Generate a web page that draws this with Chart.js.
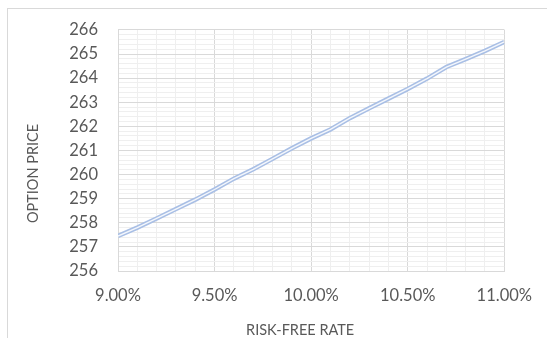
<!DOCTYPE html>
<html>
<head>
<meta charset="utf-8">
<script src="https://cdn.jsdelivr.net/npm/chart.js@4"></script>
<style>
  html, body { margin: 0; padding: 0; background: #ffffff; overflow: hidden; }
  #wrap { position: relative; width: 547px; height: 338px; }
  #frame { position: absolute; left: 7px; top: 8px; width: 600px; height: 400px; border: 1px solid #d9d9d9; box-sizing: border-box; }
  canvas { position: absolute; left: 0; top: 0; }
</style>
</head>
<body>
<div id="wrap">
  <div id="frame"></div>
  <canvas id="c" width="547" height="338"></canvas>
</div>
<script>
// Risk-free rate (%) and resulting option price
const rates = [9.0, 9.1, 9.2, 9.3, 9.4, 9.5, 9.6, 9.7, 9.8, 9.9, 10.0,
               10.1, 10.2, 10.3, 10.4, 10.5, 10.6, 10.7, 10.8, 10.9, 11.0];
const prices = [257.45, 257.80, 258.18, 258.57, 258.96, 259.38, 259.83, 260.22, 260.65, 261.09, 261.50,
                261.87, 262.34, 262.75, 263.15, 263.55, 263.98, 264.46, 264.79, 265.13, 265.50];
const xTickValues = [9.0, 9.5, 10.0, 10.5, 11.0];
const yTickValues = [256, 257, 258, 259, 260, 261, 262, 263, 264, 265, 266];
const xTitle = 'RISK-FREE RATE';
const yTitle = 'OPTION PRICE';

const points = rates.map((r, i) => ({ x: r, y: prices[i] }));
const FONT = 'Lato, "Open Sans", "Liberation Sans", sans-serif';

// Axis titles, placed around the plot area
const axisTitles = {
  id: 'axisTitles',
  afterDraw(chart) {
    const { ctx, chartArea } = chart;
    ctx.save();
    ctx.fillStyle = '#595959';
    ctx.font = '14.5px ' + FONT;
    ctx.textAlign = 'center';
    ctx.textBaseline = 'middle';
    ctx.fillText(xTitle, (chartArea.left + chartArea.right) / 2 - 11, chartArea.bottom + 59);
    ctx.translate(chartArea.left - 85, (chartArea.top + chartArea.bottom) / 2 + 23);
    ctx.rotate(-Math.PI / 2);
    ctx.fillText(yTitle, 0, 0);
    ctx.restore();
  }
};

new Chart(document.getElementById('c'), {
  type: 'scatter',
  data: {
    datasets: [
      { data: points, showLine: true, borderColor: '#a9bfe5', borderWidth: 4.5, pointRadius: 0, tension: 0, order: 2 },
      { data: points, showLine: true, borderColor: '#f4f7fc', borderWidth: 1.4, pointRadius: 0, tension: 0, order: 1 }
    ]
  },
  options: {
    responsive: false,
    animation: false,
    devicePixelRatio: 1,
    layout: { padding: { left: 20, right: 41, top: 25, bottom: 0 } },
    plugins: { legend: { display: false }, tooltip: { enabled: false } },
    scales: {
      xMinor: {
        type: 'linear', position: 'bottom', min: 9, max: 11,
        ticks: { display: false, stepSize: 0.1 },
        grid: { color: '#efefef', lineWidth: 1, drawTicks: false },
        border: { display: false },
        afterFit(s) { s.height = 0; }
      },
      x: {
        type: 'linear', position: 'bottom', min: 9, max: 11,
        afterBuildTicks(s) { s.ticks = xTickValues.map(v => ({ value: v })); },
        ticks: {
          color: '#595959', font: { family: FONT, size: 16.5 }, padding: 15, maxRotation: 0,
          callback: v => v.toFixed(2) + '%'
        },
        grid: { color: '#d9d9d9', lineWidth: 1, drawTicks: false },
        border: { color: '#d9d9d9' },
        afterFit(s) { s.height = 67; }
      },
      yMinor: {
        type: 'linear', position: 'left', min: 256, max: 266,
        ticks: { display: false, stepSize: 0.2 },
        grid: { color: '#efefef', lineWidth: 1, drawTicks: false },
        border: { display: false },
        afterFit(s) { s.width = 0; }
      },
      y: {
        type: 'linear', position: 'left', min: 256, max: 266,
        afterBuildTicks(s) { s.ticks = yTickValues.map(v => ({ value: v })); },
        ticks: { color: '#595959', font: { family: FONT, size: 16.5 }, padding: 20 },
        grid: { color: '#d9d9d9', lineWidth: 1, drawTicks: false },
        border: { color: '#d9d9d9' },
        afterFit(s) { s.width = 98; }
      }
    }
  },
  plugins: [axisTitles]
});
</script>
</body>
</html>
